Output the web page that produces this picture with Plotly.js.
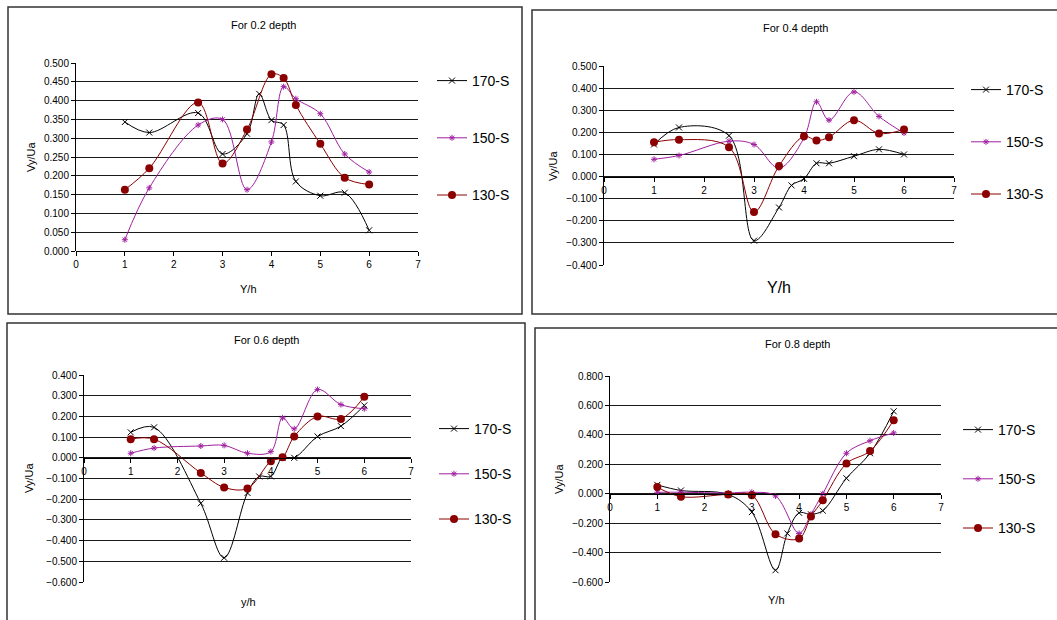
<!DOCTYPE html>
<html>
<head>
<meta charset="utf-8">
<script src="https://cdn.plot.ly/plotly-3.0.1.min.js"></script>
<style>
html,body{margin:0;padding:0;background:#fff;}
#chart{width:1057px;height:620px;}
</style>
</head>
<body>
<div id="chart"></div>
<script>
// ---------------- DATA ----------------
const seriesNames = ["170-S", "150-S", "130-S"];
const panelTitles = ["For 0.2 depth", "For 0.4 depth", "For 0.6 depth", "For 0.8 depth"];
const xTitles = ["Y/h", "Y/h", "y/h", "Y/h"];
const yTitle = "Vy/Ua";

// Y/h positions
const yh170 = [1, 1.5, 2.5, 3, 3.5, 3.75, 4, 4.25, 4.5, 5, 5.5, 6];
const yhOther = [1, 1.5, 2.5, 3, 3.5, 4, 4.25, 4.5, 5, 5.5, 6];

// 0.2 depth
const d02_170 = [0.343, 0.315, 0.367, 0.258, 0.312, 0.418, 0.348, 0.335, 0.185, 0.147, 0.155, 0.055];
const d02_150 = [0.030, 0.168, 0.335, 0.350, 0.163, 0.290, 0.437, 0.405, 0.365, 0.258, 0.210];
const d02_130 = [0.163, 0.220, 0.395, 0.233, 0.323, 0.470, 0.460, 0.388, 0.285, 0.195, 0.177];

// 0.4 depth
const d04_170 = [0.145, 0.222, 0.185, -0.290, -0.140, -0.040, -0.010, 0.060, 0.060, 0.092, 0.123, 0.100];
const d04_150 = [0.078, 0.095, 0.160, 0.145, 0.038, 0.175, 0.338, 0.255, 0.383, 0.272, 0.197];
const d04_130 = [0.155, 0.167, 0.133, -0.160, 0.048, 0.182, 0.163, 0.178, 0.255, 0.195, 0.213];

// 0.6 depth
const d06_170 = [0.123, 0.147, -0.220, -0.483, -0.170, -0.090, -0.090, 0.000, 0.000, 0.103, 0.153, 0.253];
const d06_150 = [0.022, 0.047, 0.057, 0.060, 0.022, 0.030, 0.193, 0.140, 0.330, 0.257, 0.237];
const d06_130 = [0.090, 0.090, -0.073, -0.143, -0.148, -0.017, 0.003, 0.103, 0.200, 0.188, 0.295];

// 0.8 depth
const d08_170 = [0.060, 0.022, -0.005, -0.125, -0.520, -0.270, -0.130, -0.140, -0.115, 0.105, 0.275, 0.560];
const d08_150 = [0.010, 0.010, 0.005, 0.010, -0.015, -0.270, -0.140, 0.000, 0.275, 0.360, 0.413];
const d08_130 = [0.045, -0.020, -0.005, -0.010, -0.275, -0.305, -0.155, -0.045, 0.205, 0.290, 0.500];

// y axis ranges and steps per panel
const yRanges = [[0, 0.5], [-0.4, 0.5], [-0.6, 0.4], [-0.6, 0.8]];
const yDticks = [0.05, 0.1, 0.1, 0.2];

// ---------------- LAYOUT HELPERS ----------------
const W = 1057, H = 620;
const FONT = "Liberation Sans, Arial, sans-serif";
const px = v => v / W;
const py = v => 1 - v / H;

// plot area pixel boxes [left, right, top, bottom]
const areas = [
  [76, 418, 63, 251],
  [604, 954, 66, 265],
  [84, 411, 375, 582],
  [610, 941, 376, 582]
];
const frames = [
  [8, 7, 522, 314],
  [532, 10, 1065, 314],
  [7, 323, 525, 630],
  [535, 328, 1065, 630]
];
const titlePos = [[263, 25], [795, 28], [266, 340], [797, 344]];
const xTitlePos = [[248, 289], [779, 287], [248, 602], [776, 600]];
const xTitleSize = [11, 16, 11, 11];
const yTitlePos = [[31, 157], [553, 166], [29, 478], [559, 479]];
const legendPos = [[432, 65], [966, 74], [434, 413], [958, 414]];
const legendGap = [36, 31, 24, 28];

const colors = ["#000000", "#A020A0", "#8B0000"];
const markers = [
  {symbol: "x-thin-open", size: 6, color: "#000000", line: {width: 1, color: "#000000"}},
  {symbol: "asterisk-open", size: 5, color: "#A020A0", line: {width: 1, color: "#A020A0"}},
  {symbol: "circle", size: 8, color: "#8B0000", line: {width: 0}}
];

const panelData = [
  [d02_170, d02_150, d02_130],
  [d04_170, d04_150, d04_130],
  [d06_170, d06_150, d06_130],
  [d08_170, d08_150, d08_130]
];

const traces = [];
const layout = {
  width: W, height: H,
  margin: {l: 0, r: 0, t: 0, b: 0},
  paper_bgcolor: "#ffffff",
  plot_bgcolor: "rgba(0,0,0,0)",
  font: {family: FONT, color: "#000"},
  showlegend: true,
  shapes: [],
  annotations: []
};

for (let p = 0; p < 4; p++) {
  const n = p === 0 ? "" : String(p + 1);
  const xa = "xaxis" + n, ya = "yaxis" + n;
  const [l, r, t, b] = areas[p];
  const yr = yRanges[p];
  const yDom = [py(b), py(t)];
  // x axis crosses at y = 0 (or bottom if range starts at 0)
  const zeroFrac = yDom[0] + (0 - yr[0]) / (yr[1] - yr[0]) * (yDom[1] - yDom[0]);

  layout[xa] = {
    domain: [px(l), px(r)],
    range: [0, 7],
    dtick: 1, tick0: 0,
    anchor: "free",
    position: zeroFrac,
    showline: true, linecolor: "#000", linewidth: 1,
    ticks: "outside", ticklen: 4, tickcolor: "#000",
    showgrid: false, zeroline: false,
    tickfont: {size: 10, family: FONT, color: "#000"},
    fixedrange: true
  };
  layout[ya] = {
    domain: yDom,
    range: yr,
    dtick: yDticks[p], tick0: 0,
    anchor: "x" + n,
    tickformat: ".3f",
    showline: true, linecolor: "#000", linewidth: 1,
    ticks: "outside", ticklen: 4, tickcolor: "#000",
    showgrid: true, gridcolor: "#1a1a1a", gridwidth: 1,
    zeroline: false,
    tickfont: {size: 10, family: FONT, color: "#000"},
    fixedrange: true
  };

  const lg = "legend" + n;
  layout[lg] = {
    x: px(legendPos[p][0]), y: py(legendPos[p][1]),
    xanchor: "left", yanchor: "top",
    bgcolor: "rgba(0,0,0,0)",
    borderwidth: 0,
    font: {size: 14, family: FONT, color: "#000"},
    traceorder: "grouped",
    tracegroupgap: legendGap[p],
    itemwidth: 30
  };

  for (let s = 0; s < 3; s++) {
    traces.push({
      type: "scatter",
      mode: "lines+markers",
      name: seriesNames[s],
      x: s === 0 ? yh170 : yhOther,
      y: panelData[p][s],
      xaxis: "x" + n, yaxis: "y" + n,
      legend: lg,
      legendgroup: "p" + p + "s" + s,
      line: {color: colors[s], width: 1, shape: "spline", smoothing: 1},
      marker: markers[s],
      cliponaxis: false
    });
  }

  const fr = frames[p];
  layout.shapes.push({
    type: "rect", xref: "paper", yref: "paper",
    x0: px(fr[0]), x1: px(fr[2]), y0: py(fr[3]), y1: py(fr[1]),
    line: {color: "#333333", width: 1.5}, fillcolor: "rgba(0,0,0,0)", layer: "below"
  });

  layout.annotations.push({
    text: panelTitles[p], xref: "paper", yref: "paper",
    x: px(titlePos[p][0]), y: py(titlePos[p][1]),
    xanchor: "center", yanchor: "middle", showarrow: false,
    font: {size: 11, family: FONT, color: "#000"}
  });
  layout.annotations.push({
    text: xTitles[p], xref: "paper", yref: "paper",
    x: px(xTitlePos[p][0]), y: py(xTitlePos[p][1]),
    xanchor: "center", yanchor: "middle", showarrow: false,
    font: {size: xTitleSize[p], family: FONT, color: "#000"}
  });
  layout.annotations.push({
    text: yTitle, xref: "paper", yref: "paper",
    x: px(yTitlePos[p][0]), y: py(yTitlePos[p][1]),
    xanchor: "center", yanchor: "middle", showarrow: false, textangle: -90,
    font: {size: 11, family: FONT, color: "#000"}
  });
}

Plotly.newPlot("chart", traces, layout, {displayModeBar: false, staticPlot: true});
</script>
</body>
</html>
